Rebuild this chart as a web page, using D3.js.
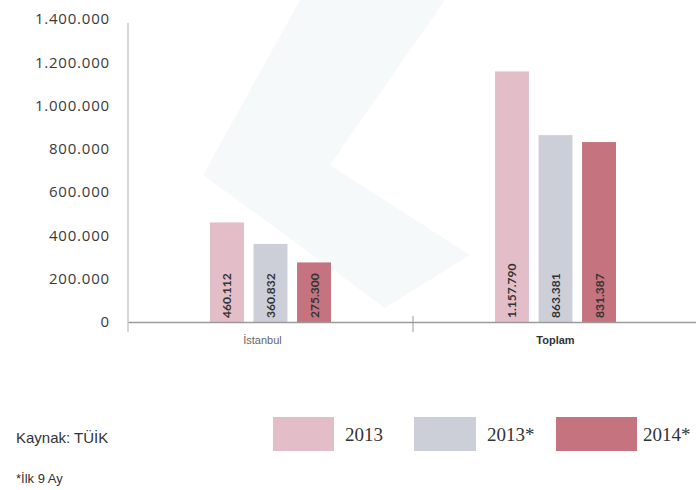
<!DOCTYPE html>
<html>
<head>
<meta charset="utf-8">
<script src="https://cdn.jsdelivr.net/npm/d3@7"></script>
<style>
  body { margin: 0; background: #fff; }
  svg { display: block; }
</style>
</head>
<body>
<svg id="chart" width="696" height="490"></svg>
<script>
//Data
var categories = ["İstanbul", "Toplam"];
var seriesNames = ["2013", "2013*", "2014*"];
var values2013 = [460112, 1157790];
var values2013s = [360832, 863381];
var values2014s = [275300, 831387];
var valueLabels = [["460.112", "360.832", "275.300"], ["1.157.790", "863.381", "831.387"]];
var yTicks = [0, 200000, 400000, 600000, 800000, 1000000, 1200000, 1400000];
var yTickLabels = ["0", "200.000", "400.000", "600.000", "800.000", "1.000.000", "1.200.000", "1.400.000"];
var colors = ["#e3bec8", "#cdcfd8", "#c5737f"];

var allSeries = [values2013, values2013s, values2014s];

var dimensions = {
    width: 696,
    height: 490,
    margin: { top: 19, bottom: 168, left: 128, right: -2 }
};

var svg = d3.select("#chart");

//Watermark
svg.append("path")
   .attr("d", "M300,0 L203,175 L385,308 L470,255 L330,165 L445,0 Z")
   .style("fill", "#f5f9fa");

//Scales
var x0 = d3.scaleBand()
           .domain(categories)
           .range([dimensions.margin.left, dimensions.width - dimensions.margin.right])
           .padding(0);

var x1 = d3.scaleBand()
           .domain(seriesNames)
           .range([-60.5, 60.5])
           .paddingInner(0.22);

var yScale = d3.scaleLinear()
               .domain([0, 1400000])
               .range([dimensions.height - dimensions.margin.bottom, dimensions.margin.top]);

//Flatten into bar rows
var rows = [];
categories.forEach(function(c, i){
    seriesNames.forEach(function(s, j){
        rows.push({ cat: c, ser: s, idx: j, value: allSeries[j][i], label: valueLabels[i][j] });
    });
});

//Bars
svg.append("g")
   .selectAll("rect")
   .data(rows)
   .enter()
   .append("rect")
   .attr("x", function(d){ return x0(d.cat) + x0.bandwidth() / 2 + x1(d.ser); })
   .attr("y", function(d){ return yScale(d.value); })
   .attr("width", x1.bandwidth())
   .attr("height", function(d){ return yScale(0) - yScale(d.value); })
   .style("fill", function(d){ return colors[d.idx]; });

//Value labels (rotated)
svg.append("g")
   .selectAll("text")
   .data(rows)
   .enter()
   .append("text")
   .attr("transform", function(d){
       var cx = x0(d.cat) + x0.bandwidth() / 2 + x1(d.ser) + x1.bandwidth() / 2;
       return "translate(" + (cx + 4.5) + "," + (yScale(0) - 4) + ") rotate(-90)";
   })
   .attr("text-anchor", "start")
   .style("font-family", "Lato, sans-serif")
   .style("font-weight", "bold")
   .style("font-size", "12px")
   .style("fill", "#333")
   .text(function(d){ return d.label; });

//X axis
var xAxis = svg.append("g")
               .attr("transform", "translate(0," + yScale(0) + ")")
               .call(d3.axisBottom(x0).tickSize(0).tickFormat(""));
xAxis.select(".domain").style("stroke", "#9a9a9a").style("stroke-width", 1.5);

//Divider tick between categories
svg.append("line")
   .attr("x1", x0("Toplam")).attr("x2", x0("Toplam"))
   .attr("y1", yScale(0) - 6).attr("y2", yScale(0) + 10)
   .style("stroke", "#9a9a9a");

//Category labels
svg.append("g")
   .selectAll("text")
   .data(categories)
   .enter()
   .append("text")
   .attr("x", function(d){ return x0(d) + x0.bandwidth() / 2 - (d === "Toplam" ? 0 : 8); })
   .attr("y", yScale(0) + 22)
   .attr("text-anchor", "middle")
   .style("font-family", "'Liberation Sans', sans-serif")
   .style("font-size", "11px")
   .style("font-weight", function(d){ return d === "Toplam" ? "bold" : "normal"; })
   .style("fill", function(d){ return d === "Toplam" ? "#333" : "#666"; })
   .text(function(d){ return d; });

//Y axis
var yAxis = svg.append("g")
               .attr("transform", "translate(" + dimensions.margin.left + ",0)")
               .call(d3.axisLeft(yScale)
                       .tickValues(yTicks)
                       .tickSize(0)
                       .tickPadding(18)
                       .tickFormat(function(d, i){ return yTickLabels[i]; }));
yAxis.select(".domain")
     .attr("d", "M0," + (yScale(1400000) + 4) + "V" + (yScale(0) + 10))
     .style("stroke", "#b0b0b0");
yAxis.selectAll("text")
     .style("font-family", "'Open Sans', sans-serif")
     .style("font-size", "15px")
     .style("letter-spacing", "0.8px")
     .style("fill", "#3a3a3a");

//Legend
var legendX = [273, 414, 556];
var legendW = [61, 62, 81];
var legendTextX = [345, 487, 643];
var legend = svg.append("g");
seriesNames.forEach(function(s, i){
    legend.append("rect")
          .attr("x", legendX[i]).attr("y", 417)
          .attr("width", legendW[i]).attr("height", 34)
          .style("fill", colors[i]);
    legend.append("text")
          .attr("x", legendTextX[i])
          .attr("y", 441)
          .style("font-family", "'Liberation Serif', serif")
          .style("font-size", "19px")
          .style("fill", "#333")
          .text(s);
});

//Source notes
svg.append("text")
   .attr("x", 16).attr("y", 443)
   .style("font-family", "'Liberation Sans', sans-serif")
   .style("font-size", "15px")
   .style("fill", "#333")
   .text("Kaynak: TÜİK");

svg.append("text")
   .attr("x", 16).attr("y", 483)
   .style("font-family", "'Liberation Sans', sans-serif")
   .style("font-size", "13px")
   .style("fill", "#333")
   .text("*İlk 9 Ay");
</script>
</body>
</html>
